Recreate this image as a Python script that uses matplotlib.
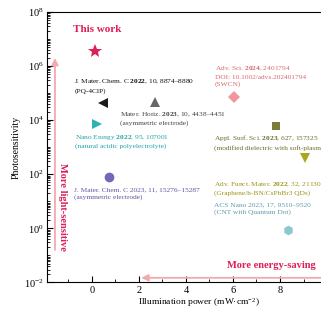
import matplotlib
matplotlib.use('Agg')
import matplotlib.pyplot as plt
import matplotlib.ticker as mticker
import numpy as np

plt.rcParams['font.family'] = ['Liberation Serif', 'DejaVu Serif']
plt.rcParams['mathtext.fontset'] = 'custom'
plt.rcParams['mathtext.rm'] = 'Liberation Serif'
plt.rcParams['mathtext.bf'] = 'Liberation Serif:bold'
plt.rcParams['mathtext.it'] = 'Liberation Serif:italic'

# data: illumination power (mW/cm2) and photosensitivity
power = [0.14, 0.47, 2.67, 0.21, 0.71, 6.04, 7.82, 9.07, 8.33]
photosens = [3.7e6, 4.5e4, 4.8e4, 7.0e3, 80, 7.0e4, 6.0e3, 400, 0.9]
refs = [
    'This work',
    'J. Mater. Chem. C $\\mathbf{2022}$, 10, 8874\u20138880\n(PQ-4ClP)',
    'Mater. Horiz. $\\mathbf{2023}$, 10, 4438\u20134451\n(asymmetric electrode)',
    'Nano Energy $\\mathbf{2022}$, 95, 107001\n(natural acidic polyelectrolyte)',
    'J. Mater. Chem. C 2023, 11, 15276\u201315287\n(asymmetric electrode)',
    'Adv. Sci. $\\mathbf{2024}$, 2401794\nDOI: 10.1002/advs.202401794\n(SWCN)',
    'Appl. Surf. Sci. $\\mathbf{2023}$, 627, 157325\n(modified dielectric with soft-plasma)',
    'Adv. Funct. Mater. $\\mathbf{2022}$, 32, 2113053\n(Graphene/h-BN/CsPbBr3 QDs)',
    'ACS Nano 2023, 17, 9510\u20139520\n(CNT with Quantum Dot)',
]
# where each label sits (left x, centre y)
label_pos = [(-0.81, 2.3e7), (-0.75, 1.85e5), (1.21, 1.2e4), (-0.73, 1.7e3),
             (-0.75, 19), (5.22, 4.3e5), (5.19, 1.55e3), (5.19, 30), (5.19, 5.2)]

markers = ['*', '<', '^', '>', 'o', 'D', 's', 'v', 'h']
colors = ['#DC1F56', '#1a1a1a', '#666666', '#2DB3B3', '#7466B8',
          '#F2959C', '#7D7B3A', '#A9A71E', '#8CC9CE']
text_colors = ['#DC1F56', '#111111', '#444444', '#23A4A6', '#5B57A0',
               '#D9686E', '#6E6C2C', '#98961A', '#5C9CAA']
msizes = [10, 7, 7, 7, 7, 6, 6, 7, 7]

fig = plt.figure(figsize=(3.21, 3.09), dpi=100)
ax = fig.add_axes([0.147, 0.086, 0.945, 0.875])

for i in range(len(power)):
    ax.plot(power[i], photosens[i], marker=markers[i], color=colors[i],
            markersize=msizes[i], linestyle='none', markeredgewidth=0)
    lx, ly = label_pos[i]
    if i == 0:
        ax.text(lx, ly, refs[i], color=text_colors[i], fontsize=8,
                fontweight='bold', va='center', ha='left')
    else:
        ax.text(lx, ly, refs[i], color=text_colors[i], fontsize=5.3,
                va='center', ha='left', linespacing=1.35)

# arrows
ax.annotate('', xy=(-1.57, 2.0e6), xytext=(-1.57, 0.16),
            arrowprops=dict(arrowstyle='-|>', color='#F4A8AF', lw=1.3,
                            mutation_scale=10, shrinkA=0, shrinkB=0))
ax.annotate('', xy=(2.1, 0.0148), xytext=(11.5, 0.0148),
            arrowprops=dict(arrowstyle='-|>', color='#F4A8AF', lw=1.3,
                            mutation_scale=10, shrinkA=0, shrinkB=0))
ax.text(-1.24, 6.2, 'More light-sensitive', rotation=-90, color='#DC1F56',
        fontsize=7.5, fontweight='bold', ha='center', va='center')
ax.text(5.76, 0.043, 'More energy-saving', color='#DC1F56',
        fontsize=7.5, fontweight='bold', ha='left', va='center')

ax.set_yscale('log')
ax.set_xlim(-1.9, 11)
ax.set_ylim(1e-2, 1e8)
ax.set_xticks([0, 2, 4, 6, 8])
ax.xaxis.set_minor_locator(mticker.MultipleLocator(1))
ax.set_yticks([1e-2, 1, 1e2, 1e4, 1e6, 1e8])
ax.yaxis.set_minor_locator(mticker.LogLocator(base=10, subs=np.arange(1, 10), numticks=100))
ax.yaxis.set_minor_formatter(mticker.NullFormatter())
ax.tick_params(which='both', direction='in', labelsize=7.5)
ax.tick_params(which='major', length=4, pad=2.5)
ax.tick_params(which='minor', length=2)
ax.set_xlabel('Illumination power (mW\u00b7cm$^{-2}$)', fontsize=6.8, labelpad=0.5)
ax.set_ylabel('Photosensitivity', fontsize=7, labelpad=2)

fig.savefig('out.png', dpi=100)
